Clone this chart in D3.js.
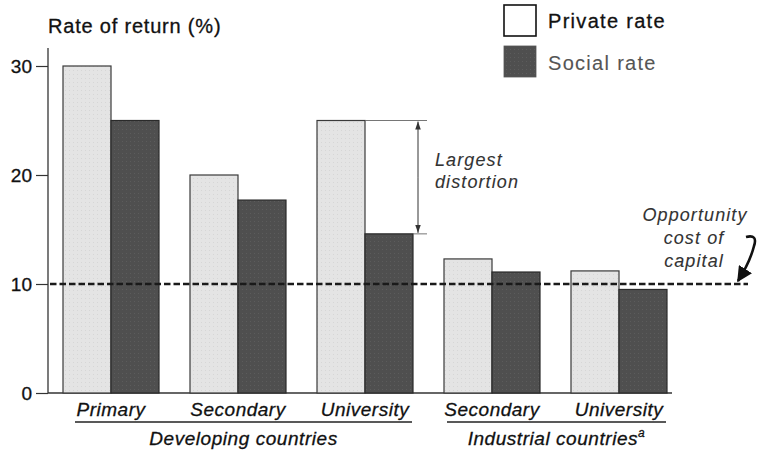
<!DOCTYPE html>
<html><head><meta charset="utf-8">
<script src="https://cdn.jsdelivr.net/npm/d3@7/dist/d3.min.js"></script>
<style>body{margin:0;background:#fff}text{font-family:"Liberation Sans",Arial,sans-serif;stroke-width:0.3px;stroke:currentColor}text.thin{stroke-width:0.1px}</style>
</head><body><svg id="c" width="760" height="452"></svg>
<script>
const categories = ["Primary","Secondary","University","Secondary","University"];
const groups = [{name:"Developing countries", sup:"", from:0, to:2},{name:"Industrial countries", sup:"a", from:3, to:4}];
const privateRate = [30, 20, 25, 12.3, 11.2];
const socialRate = [25, 17.7, 14.6, 11.1, 9.5];
const yTicks = [0, 10, 20, 30];
const opportunityCost = 10;
const seriesNames = ["Private rate","Social rate"];

const svg = d3.select("#c");
const y = d3.scaleLinear().domain([0,30]).range([393,66]);
const x = d3.scaleBand().domain(d3.range(categories.length)).range([63,667]).paddingInner(31/127).paddingOuter(0);
const xs = d3.scaleBand().domain([0,1]).range([0,x.bandwidth()]);

function txt(sel, col){ return sel.attr("fill",col).style("color",col); }

// axes
const yAxis = d3.axisLeft(y).tickValues(yTicks).tickSize(12).tickPadding(4);
const gy = svg.append("g").attr("transform","translate(48,0)").call(yAxis);
gy.select(".domain").attr("d","M0,48V393").attr("stroke","#333").attr("stroke-width",1.3);
gy.selectAll(".tick line").attr("stroke","#333").attr("stroke-width",1.2);
txt(gy.selectAll(".tick text").attr("font-size",19).attr("font-family","Liberation Sans, Arial, sans-serif").attr("dy","0.35em"),"#111");
svg.append("line").attr("x1",48).attr("x2",672).attr("y1",y(0)).attr("y2",y(0)).attr("stroke","#333").attr("stroke-width",1.5);

txt(svg.append("text").attr("x",48).attr("y",33).attr("font-size",20).attr("letter-spacing",0.8),"#111").text("Rate of return (%)");

// texture pattern
const defs = svg.append("defs");
const pat = defs.append("pattern").attr("id","lt").attr("width",4).attr("height",4).attr("patternUnits","userSpaceOnUse");
pat.append("rect").attr("width",4).attr("height",4).attr("fill","#e4e4e4");
pat.append("rect").attr("x",1).attr("y",2).attr("width",1).attr("height",1).attr("fill","#d6d6d6");
const pat2 = defs.append("pattern").attr("id","dk").attr("width",4).attr("height",4).attr("patternUnits","userSpaceOnUse");
pat2.append("rect").attr("width",4).attr("height",4).attr("fill","#4f4f4f");
pat2.append("rect").attr("x",2).attr("y",1).attr("width",1).attr("height",1).attr("fill","#5c5c5c");

const g = svg.append("g");
categories.forEach((c,i)=>{
  g.append("rect").attr("x",x(i)+xs(0)).attr("width",xs.bandwidth()).attr("y",y(privateRate[i])).attr("height",y(0)-y(privateRate[i]))
    .attr("fill","url(#lt)").attr("stroke","#3a3a3a").attr("stroke-width",1.2);
  g.append("rect").attr("x",x(i)+xs(1)).attr("width",xs.bandwidth()).attr("y",y(socialRate[i])).attr("height",y(0)-y(socialRate[i]))
    .attr("fill","url(#dk)").attr("stroke","#2a2a2a").attr("stroke-width",1.2);
  txt(svg.append("text").attr("x",x(i)+x.bandwidth()/2).attr("y",416).attr("text-anchor","middle").attr("font-size",19).attr("letter-spacing",0.5)
    .attr("font-style","italic"),"#111").text(c);
});

// group underlines & labels
const gx = [[75,412],[447,666]];
groups.forEach((gr,k)=>{
  svg.append("line").attr("x1",gx[k][0]).attr("x2",gx[k][1]).attr("y1",422).attr("y2",422).attr("stroke","#222").attr("stroke-width",1.3);
  const t = txt(svg.append("text").attr("x",(gx[k][0]+gx[k][1])/2).attr("y",445).attr("text-anchor","middle").attr("font-size",19).attr("letter-spacing",0.55).attr("font-style","italic"),"#111").text(gr.name);
  if(gr.sup) t.append("tspan").attr("font-size",12).attr("dy",-8).text(gr.sup);
});

// opportunity cost line
svg.append("line").attr("x1",50).attr("x2",748).attr("y1",y(opportunityCost)).attr("y2",y(opportunityCost))
  .attr("stroke","#1a1a1a").attr("stroke-width",2.5).attr("stroke-dasharray","6.5,3");

// largest distortion
const uTop = y(privateRate[2]), uBot = y(socialRate[2]);
const ux0 = x(2)+xs(1);
svg.append("line").attr("x1",ux0).attr("x2",427).attr("y1",uTop).attr("y2",uTop).attr("stroke","#666").attr("stroke-width",0.9);
svg.append("line").attr("x1",ux0+xs.bandwidth()).attr("x2",427).attr("y1",uBot).attr("y2",uBot).attr("stroke","#666").attr("stroke-width",0.9);
defs.append("marker").attr("id","ah").attr("viewBox","0 0 10 10").attr("refX",10).attr("refY",5).attr("markerWidth",8).attr("markerHeight",8).attr("orient","auto")
  .append("path").attr("d","M0,1.5L10,5L0,8.5Z").attr("fill","#333");
svg.append("line").attr("x1",418).attr("x2",418).attr("y1",(uTop+uBot)/2).attr("y2",uTop+1).attr("stroke","#333").attr("stroke-width",1).attr("marker-end","url(#ah)");
svg.append("line").attr("x1",418).attr("x2",418).attr("y1",(uTop+uBot)/2).attr("y2",uBot-1).attr("stroke","#333").attr("stroke-width",1).attr("marker-end","url(#ah)");
const ld = txt(svg.append("text").attr("class","thin").attr("font-size",18).attr("letter-spacing",1.1).attr("font-style","italic"),"#333");
ld.append("tspan").attr("x",435).attr("y",166).text("Largest");
ld.append("tspan").attr("x",435).attr("y",188).text("distortion");

// opportunity cost text
const oc = txt(svg.append("text").attr("class","thin").attr("font-size",18).attr("letter-spacing",1.1).attr("font-style","italic").attr("text-anchor","middle"),"#333");
[["Opportunity",695,221],["cost of",694,244],["capital",694,267]].forEach(d=>oc.append("tspan").attr("x",d[1]).attr("y",d[2]).text(d[0]));
defs.append("marker").attr("id","ah2").attr("viewBox","0 0 10 10").attr("refX",9).attr("refY",5).attr("markerWidth",6).attr("markerHeight",6).attr("orient","auto")
  .append("path").attr("d","M0,0L10,5L0,10Z").attr("fill","#111");
svg.append("path").attr("d","M746,237 Q758,234 754,246 Q750,262 738,281").attr("fill","none").attr("stroke","#111").attr("stroke-width",2.6).attr("marker-end","url(#ah2)");

// legend
svg.append("rect").attr("x",504).attr("y",5).attr("width",32).attr("height",31).attr("fill","#fff").attr("stroke","#111").attr("stroke-width",1.6);
svg.append("rect").attr("x",504).attr("y",46).attr("width",32).attr("height",31).attr("fill","url(#dk)").attr("stroke","#555").attr("stroke-width",0.8);
txt(svg.append("text").attr("x",548).attr("y",28).attr("font-size",20).attr("letter-spacing",1.3),"#111").text(seriesNames[0]);
txt(svg.append("text").attr("class","thin").attr("x",548).attr("y",70).attr("font-size",20).attr("letter-spacing",1.3),"#555").text(seriesNames[1]);
</script></body></html>
